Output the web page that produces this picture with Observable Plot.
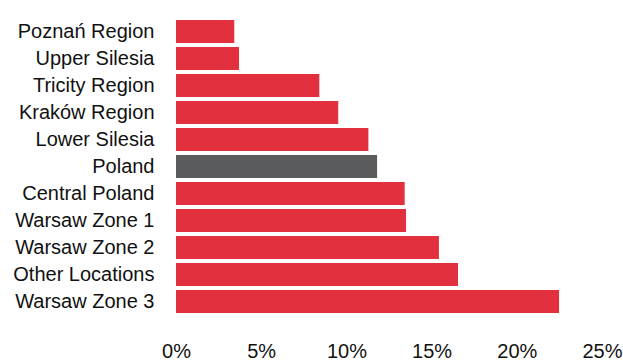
<!DOCTYPE html>
<html>
<head>
<meta charset="utf-8">
<script src="https://cdn.jsdelivr.net/npm/d3@7"></script>
<script src="https://cdn.jsdelivr.net/npm/@observablehq/plot@0.6"></script>
<style>
  html, body { margin: 0; padding: 0; background: #fff; }
  #chart svg { display: block; }
</style>
</head>
<body>
<div id="chart"></div>
<script>
const categories = ["Poznań Region", "Upper Silesia", "Tricity Region", "Kraków Region", "Lower Silesia", "Poland", "Central Poland", "Warsaw Zone 1", "Warsaw Zone 2", "Other Locations", "Warsaw Zone 3"];
const values = [3.42, 3.70, 8.41, 9.52, 11.29, 11.80, 13.42, 13.50, 15.43, 16.55, 22.48];
const highlight = "Poland";
const xTicks = [0, 5, 10, 15, 20, 25];

const data = categories.map((c, i) => ({category: c, value: values[i], kind: c === highlight ? "total" : "region"}));

const chart = Plot.plot({
  width: 623,
  height: 361,
  marginLeft: 176,
  marginRight: 21,
  marginTop: 10,
  marginBottom: 39,
  style: {fontFamily: "'Liberation Sans', Arial, sans-serif", fontSize: "20px", color: "#111", background: "#fff"},
  x: {domain: [0, 25], ticks: xTicks, tickFormat: d => d + "%"},
  y: {domain: categories, padding: 0.16},
  color: {domain: ["region", "total"], range: ["#e3303e", "#5a5b5d"]},
  marks: [
    Plot.barX(data, {x: "value", y: "category", fill: "kind"}),
    Plot.axisX({ticks: xTicks, tickFormat: d => d + "%", tickSize: 0, tickPadding: 21, label: null, fontSize: 20}),
    Plot.axisY({tickSize: 0, tickPadding: 22, label: null, fontSize: 20})
  ]
});
document.getElementById("chart").appendChild(chart);
</script>
</body>
</html>
